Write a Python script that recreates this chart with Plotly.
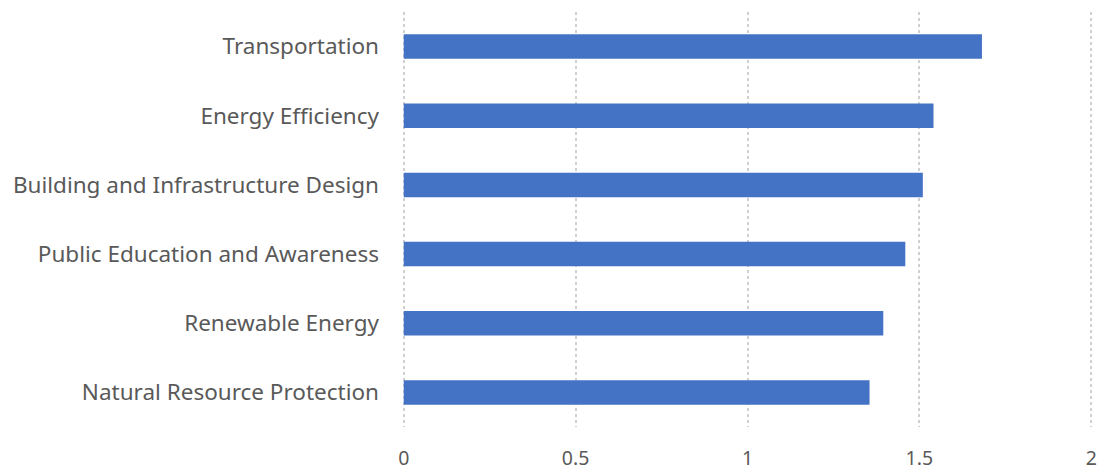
import plotly.graph_objects as go

# Categories listed bottom-to-top as they appear on the y axis
categories = [
    "Natural Resource Protection",
    "Renewable Energy",
    "Public Education and Awareness",
    "Building and Infrastructure Design",
    "Energy Efficiency",
    "Transportation",
]
values = [1.355, 1.395, 1.459, 1.510, 1.541, 1.682]
x_ticks = [0, 0.5, 1, 1.5, 2]
x_tick_labels = ["0", "0.5", "1", "1.5", "2"]

fig = go.Figure(
    go.Bar(
        x=values,
        y=categories,
        orientation="h",
        marker=dict(color="#4472C4", line=dict(width=0)),
        width=0.354,
    )
)

# slight padding on the value range so the 0 and 2 gridlines stay visible
pad = 0.005
fig.update_layout(
    width=1099,
    height=470,
    margin=dict(l=402, r=6, t=12, b=43, autoexpand=False),
    paper_bgcolor="white",
    plot_bgcolor="white",
    showlegend=False,
    font=dict(family="Noto Sans, Open Sans, sans-serif", size=22, color="#595959"),
)

fig.update_xaxes(
    range=[-pad, 2 + pad],
    tickvals=x_ticks,
    ticktext=x_tick_labels,
    showgrid=True,
    gridcolor="#d0d0d0",
    griddash="dot",
    gridwidth=1.5,
    zeroline=False,
    showline=False,
    ticks="",
    automargin=False,
    ticklabelstandoff=17,
    tickfont=dict(size=19.5, color="#595959"),
)

fig.update_yaxes(
    showgrid=False,
    zeroline=False,
    showline=False,
    ticks="",
    automargin=False,
    ticklabelstandoff=22,
    tickfont=dict(size=22.5, color="#595959"),
)

fig.write_html("out.html")
